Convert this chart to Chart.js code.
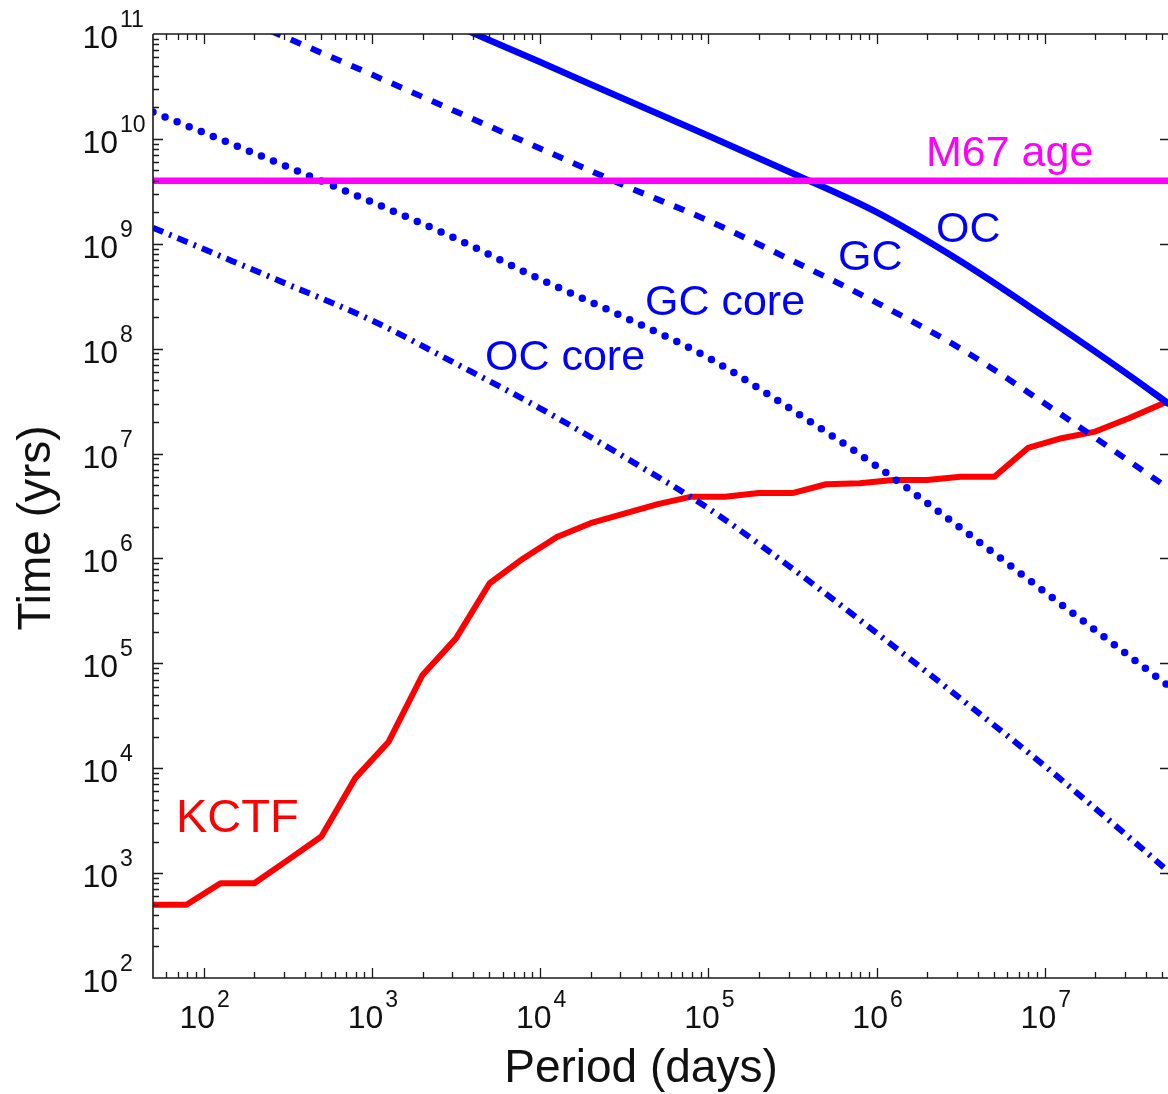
<!DOCTYPE html>
<html lang="en">
<head>
    <meta charset="UTF-8">
    <title>Timescales vs period</title>
    <script src="https://cdn.jsdelivr.net/npm/chart.js"></script>
    <style>
        html, body { margin: 0; padding: 0; background: #fff; }
        #wrap { width: 1168px; height: 1094px; position: relative; }
    </style>
</head>
<body>
    <div id="wrap"><canvas id="timeChart"></canvas></div>
    <script>
        // values: period in days, time in years
        const periodRange = [50, 5.4e7];
        const timeRange = [1e2, 1e11];
        const xTickExps = [2, 3, 4, 5, 6, 7];
        const yTickExps = [2, 3, 4, 5, 6, 7, 8, 9, 10, 11];

        const ocPeriod = [3500, 1.0e4, 3.16e4, 1.0e5, 3.16e5, 1.0e6, 3.16e6, 1.0e7, 3.16e7, 5.5e7];
        const ocTime = [1.12e11, 5.4e10, 2.4e10, 1.07e10, 4.7e9, 2.0e9, 6.8e8, 2.0e8, 5.6e7, 2.95e7];

        const gcPeriod = [250, 1.0e3, 3.16e3, 1.0e4, 3.16e4, 1.0e5, 3.16e5, 1.0e6, 3.16e6, 1.0e7, 3.16e7, 5.5e7];
        const gcTime = [1.07e11, 4.1e10, 1.82e10, 8.1e9, 3.6e9, 1.66e9, 6.9e8, 2.75e8, 1.0e8, 3.0e7, 8.5e6, 4.6e6];

        const corePeriod = [50, 100, 316, 1.0e3, 3.16e3, 1.0e4, 3.16e4, 1.0e5, 3.16e5, 1.0e6, 3.16e6, 1.0e7, 3.16e7, 5.5e7];
        const gcCoreTime = [1.8e10, 1.15e10, 5.4e9, 2.5e9, 1.12e9, 4.6e8, 2.0e8, 8.2e7, 2.6e7, 7.6e6, 1.95e6, 4.8e5, 1.18e5, 6.0e4];
        const ocCoreTime = [1.42e9, 8.9e8, 4.1e8, 1.86e8, 7.2e7, 2.7e7, 9.3e6, 3.0e6, 8.0e5, 1.95e5, 4.6e4, 1.05e4, 2.2e3, 1.02e3];

        const kctfPeriod = [50, 79, 126, 200, 316, 501, 794, 1259, 1995, 3162, 5012, 7943, 12589, 19953, 31623,
            50119, 79433, 125893, 199526, 316228, 501187, 794328, 1.259e6, 1.995e6, 3.162e6, 5.012e6, 7.943e6,
            1.259e7, 1.995e7, 3.162e7, 5.4e7];
        const kctfTime = [500, 500, 800, 800, 1330, 2230, 8000, 1.79e4, 7.7e4, 1.73e5, 5.8e5, 1.0e6, 1.6e6, 2.17e6,
            2.67e6, 3.29e6, 3.88e6, 3.88e6, 4.2e6, 4.2e6, 5.1e6, 5.2e6, 5.6e6, 5.6e6, 6.0e6, 6.0e6, 1.13e7, 1.4e7,
            1.62e7, 2.17e7, 3.15e7];

        const m67Age = 4.0e9;

        const BLUE = '#0000ff';
        const RED = '#ff0000';
        const MAGENTA = '#ff00ff';
        const FONT = '"Liberation Sans", Arial, Helvetica, sans-serif';

        function toPoints(xs, ys) {
            return xs.map((v, i) => ({ x: v, y: ys[i] }));
        }

        function curve(label, xs, ys, color, width, dash, cap, smooth) {
            return {
                label: label,
                data: toPoints(xs, ys),
                showLine: true,
                borderColor: color,
                backgroundColor: color,
                borderWidth: width,
                borderDash: dash,
                borderCapStyle: cap,
                borderJoinStyle: 'round',
                pointRadius: 0,
                cubicInterpolationMode: smooth ? 'monotone' : 'default',
                tension: smooth ? 0.4 : 0,
                clip: 0
            };
        }

        // superscript tick labels like 10^5
        function powLabel(ctx, exp, cx, baseline, align) {
            ctx.font = '32px ' + FONT;
            const w1 = ctx.measureText('10').width;
            ctx.font = '23px ' + FONT;
            const w2 = ctx.measureText(String(exp)).width;
            let left;
            if (align === 'center') left = cx - (w1 + 2 + w2) / 2;
            else left = cx - w1;
            ctx.textAlign = 'left';
            ctx.font = '32px ' + FONT;
            ctx.fillText('10', left, baseline);
            ctx.font = '23px ' + FONT;
            ctx.fillText(String(exp), left + w1 + 2, baseline - 21);
        }

        const frame = {
            id: 'frame',
            afterDraw(chart) {
                const { ctx, chartArea: a, scales: { x, y } } = chart;
                ctx.save();
                ctx.strokeStyle = '#1a1a1a';
                ctx.lineWidth = 1.6;
                ctx.beginPath();
                ctx.moveTo(a.left, a.top); ctx.lineTo(a.right, a.top);
                ctx.moveTo(a.left, a.top); ctx.lineTo(a.left, a.bottom); ctx.lineTo(a.right, a.bottom);
                ctx.stroke();

                ctx.lineWidth = 1.3;
                ctx.beginPath();
                for (let e = 1; e <= 7; e++) {
                    for (let k = 1; k <= 9; k++) {
                        const v = k * Math.pow(10, e);
                        if (v <= x.min || v >= x.max) continue;
                        const px = Math.round(x.getPixelForValue(v)) + 0.5;
                        const len = k === 1 ? 10 : 6;
                        ctx.moveTo(px, a.bottom); ctx.lineTo(px, a.bottom - len);
                        ctx.moveTo(px, a.top); ctx.lineTo(px, a.top + len);
                    }
                }
                for (let e = 2; e <= 10; e++) {
                    for (let k = 1; k <= 9; k++) {
                        const v = k * Math.pow(10, e);
                        if (v <= y.min || v >= y.max) continue;
                        const py = Math.round(y.getPixelForValue(v)) + 0.5;
                        const len = k === 1 ? 10 : 6;
                        ctx.moveTo(a.left, py); ctx.lineTo(a.left + len, py);
                        if (k === 1) { ctx.moveTo(a.right, py); ctx.lineTo(a.right - 8, py); }
                    }
                }
                ctx.stroke();

                // tick labels
                ctx.fillStyle = '#111';
                ctx.textBaseline = 'alphabetic';
                xTickExps.forEach(e => {
                    powLabel(ctx, e, x.getPixelForValue(Math.pow(10, e)) + 1, a.bottom + 50, 'center');
                });
                yTickExps.forEach(e => {
                    powLabel(ctx, e, a.left - 35, y.getPixelForValue(Math.pow(10, e)) + 14, 'right');
                });

                // axis titles
                ctx.font = '46px ' + FONT;
                ctx.textAlign = 'center';
                ctx.fillText('Period (days)', 641, 1082);
                ctx.save();
                ctx.translate(50, 528);
                ctx.rotate(-Math.PI / 2);
                ctx.fillText('Time (yrs)', 0, 0);
                ctx.restore();

                // curve labels
                ctx.textAlign = 'left';
                ctx.font = '43px ' + FONT;
                ctx.fillStyle = MAGENTA;
                ctx.fillText('M67 age', 926, 166);
                ctx.fillStyle = BLUE;
                ctx.fillText('OC', 936, 242);
                ctx.fillText('GC', 838, 270);
                ctx.fillText('GC core', 645, 315);
                ctx.fillText('OC core', 485, 370);
                ctx.font = '47px ' + FONT;
                ctx.fillStyle = RED;
                ctx.fillText('KCTF', 176, 832);
                ctx.restore();
            }
        };

        const ctx = document.getElementById('timeChart').getContext('2d');
        const timeChart = new Chart(ctx, {
            type: 'scatter',
            data: {
                datasets: [
                    curve('M67 age', periodRange, [m67Age, m67Age], MAGENTA, 6.5, [], 'butt', false),
                    curve('OC', ocPeriod, ocTime, BLUE, 6.5, [], 'butt', true),
                    curve('GC', gcPeriod, gcTime, BLUE, 6, [11, 11], 'butt', true),
                    curve('GC core', corePeriod, gcCoreTime, BLUE, 7.5, [0, 13], 'round', true),
                    curve('OC core', corePeriod, ocCoreTime, BLUE, 6, [11, 6.5, 2.5, 6.5], 'butt', true),
                    curve('KCTF', kctfPeriod, kctfTime, RED, 6, [], 'butt', false)
                ]
            },
            options: {
                responsive: true,
                maintainAspectRatio: false,
                animation: false,
                layout: { padding: { left: 153, top: 34, right: 0, bottom: 116 } },
                scales: {
                    x: { type: 'logarithmic', min: periodRange[0], max: periodRange[1], display: false },
                    y: { type: 'logarithmic', min: timeRange[0], max: timeRange[1], display: false }
                },
                plugins: {
                    legend: { display: false },
                    tooltip: { enabled: false }
                }
            },
            plugins: [frame]
        });
    </script>
</body>
</html>
